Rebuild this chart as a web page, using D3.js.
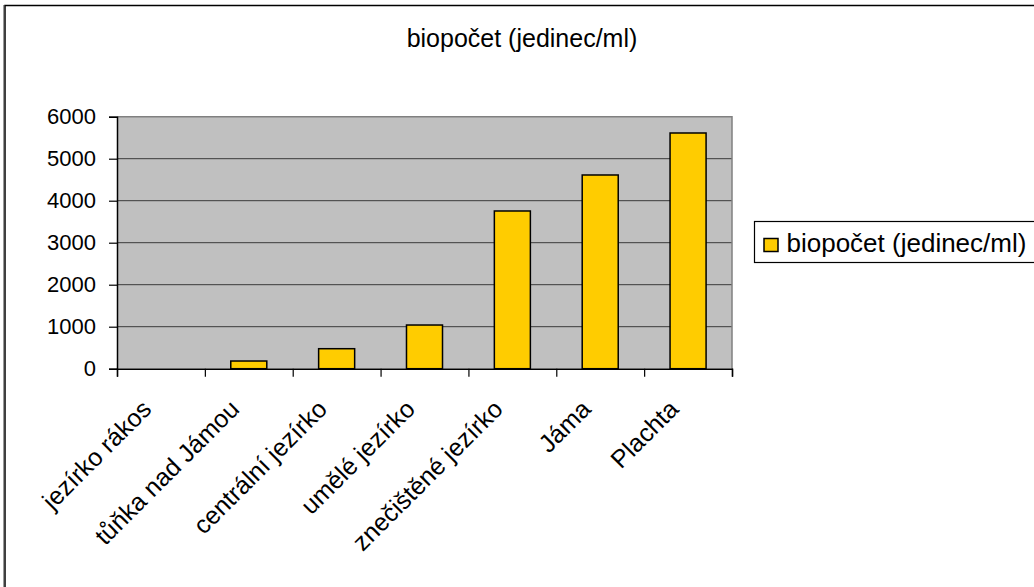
<!DOCTYPE html>
<html>
<head>
<meta charset="utf-8">
<script src="https://cdn.jsdelivr.net/npm/d3@7"></script>
<style>
  body { margin: 0; background: #fff; }
  svg { display: block; }
  text { font-family: "Liberation Sans", Arial, sans-serif; fill: #000; }
</style>
</head>
<body>
<svg id="chart" width="1034" height="587"></svg>
<script>
// Sampling sites and organism counts (individuals per ml)
const categories = ["jezírko rákos", "tůňka nad Jámou", "centrální jezírko", "umělé jezírko", "znečištěné jezírko", "Jáma", "Plachta"];
const values = [0, 183, 476, 1040, 3755, 4612, 5612];
const yTicks = [0, 1000, 2000, 3000, 4000, 5000, 6000];
const seriesName = "biopočet (jedinec/ml)";
const chartTitle = "biopočet (jedinec/ml)";

const svg = d3.select("#chart");
const plot = { left: 117, right: 732, top: 116.7, bottom: 368.7 };

// Outer chart frame with a soft shadow on the left edge
svg.append("line").attr("x1", 3.5).attr("x2", 3.5).attr("y1", 5).attr("y2", 600)
  .attr("stroke", "#9a9a9a").attr("stroke-width", 1);
svg.append("rect").attr("x", 5).attr("y", 5.5).attr("width", 1100).attr("height", 700)
  .attr("fill", "none").attr("stroke", "#000").attr("stroke-width", 1.5);

// Scales
const y = d3.scaleLinear().domain([0, 6000]).range([plot.bottom, plot.top]);
const xBand = d3.scaleBand().domain(categories).range([plot.left, plot.right]).padding(0);
const xBar = d3.scaleBand().domain(categories).range([plot.left, plot.right])
  .paddingInner(0.59).paddingOuter(0.295);
const xEdge = d3.scaleLinear().domain([0, categories.length]).range([plot.left, plot.right]);

// Plot background
svg.append("rect")
  .attr("x", plot.left).attr("y", plot.top)
  .attr("width", plot.right - plot.left).attr("height", plot.bottom - plot.top)
  .attr("fill", "#c0c0c0");

// Horizontal gridlines
svg.append("g").selectAll("line")
  .data(yTicks.filter(d => d > 0 && d < 6000))
  .join("line")
  .attr("x1", plot.left).attr("x2", plot.right)
  .attr("y1", d => y(d)).attr("y2", d => y(d))
  .attr("stroke", "#3a3a3a").attr("stroke-width", 1);

// Plot area border (top and right)
svg.append("path")
  .attr("d", `M${plot.left},${y(6000)}H${plot.right}V${plot.bottom}`)
  .attr("fill", "none").attr("stroke", "#808080").attr("stroke-width", 1.5);

// Bars
svg.append("g").selectAll("rect")
  .data(categories.map((c, i) => ({ c, v: values[i] })))
  .join("rect")
  .attr("x", d => xBar(d.c))
  .attr("width", xBar.bandwidth())
  .attr("y", d => y(d.v))
  .attr("height", d => y(0) - y(d.v))
  .attr("fill", "#ffcc00")
  .attr("stroke", "#000").attr("stroke-width", 1.5)
  .attr("display", d => d.v > 0 ? null : "none");

// Y axis
const yAxis = svg.append("g")
  .attr("transform", `translate(${plot.left},0)`)
  .call(d3.axisLeft(y).tickValues(yTicks).tickSize(8).tickPadding(13).tickFormat(d3.format("d")));
yAxis.select(".domain").attr("stroke", "#000").attr("stroke-width", 1.5);
yAxis.selectAll(".tick line").attr("stroke", "#000").attr("stroke-width", 1.2);
yAxis.selectAll(".tick text")
  .style("font-family", '"Liberation Sans", Arial, sans-serif')
  .style("font-size", "22px").attr("fill", "#000");

// X axis: ticks at category boundaries
const xAxis = svg.append("g")
  .attr("transform", `translate(0,${plot.bottom})`)
  .call(d3.axisBottom(xEdge).tickValues(d3.range(categories.length + 1)).tickSize(8).tickFormat(""));
xAxis.select(".domain").attr("stroke", "#000").attr("stroke-width", 1.5);
xAxis.selectAll(".tick line").attr("stroke", "#000").attr("stroke-width", 1.2);

// Rotated category labels
svg.append("g").selectAll("text")
  .data(categories)
  .join("text")
  .attr("transform", d => `translate(${xBand(d) + xBand.bandwidth() / 2 - 8},${plot.bottom + 42}) rotate(-45)`)
  .attr("text-anchor", "end")
  .style("font-size", "25px")
  .text(d => d);

// Title
svg.append("text")
  .attr("x", 522).attr("y", 47)
  .attr("text-anchor", "middle")
  .style("font-size", "25px")
  .text(chartTitle);

// Legend
const legend = svg.append("g");
legend.append("rect")
  .attr("x", 754.5).attr("y", 221.5).attr("width", 300).attr("height", 41)
  .attr("fill", "#fff").attr("stroke", "#000").attr("stroke-width", 1.2);
legend.append("rect")
  .attr("x", 764).attr("y", 238.5).attr("width", 14).attr("height", 13)
  .attr("fill", "#ffcc00").attr("stroke", "#000").attr("stroke-width", 1.5);
legend.append("text")
  .attr("x", 786.5).attr("y", 251.5)
  .style("font-size", "26px")
  .text(seriesName);
</script>
</body>
</html>
